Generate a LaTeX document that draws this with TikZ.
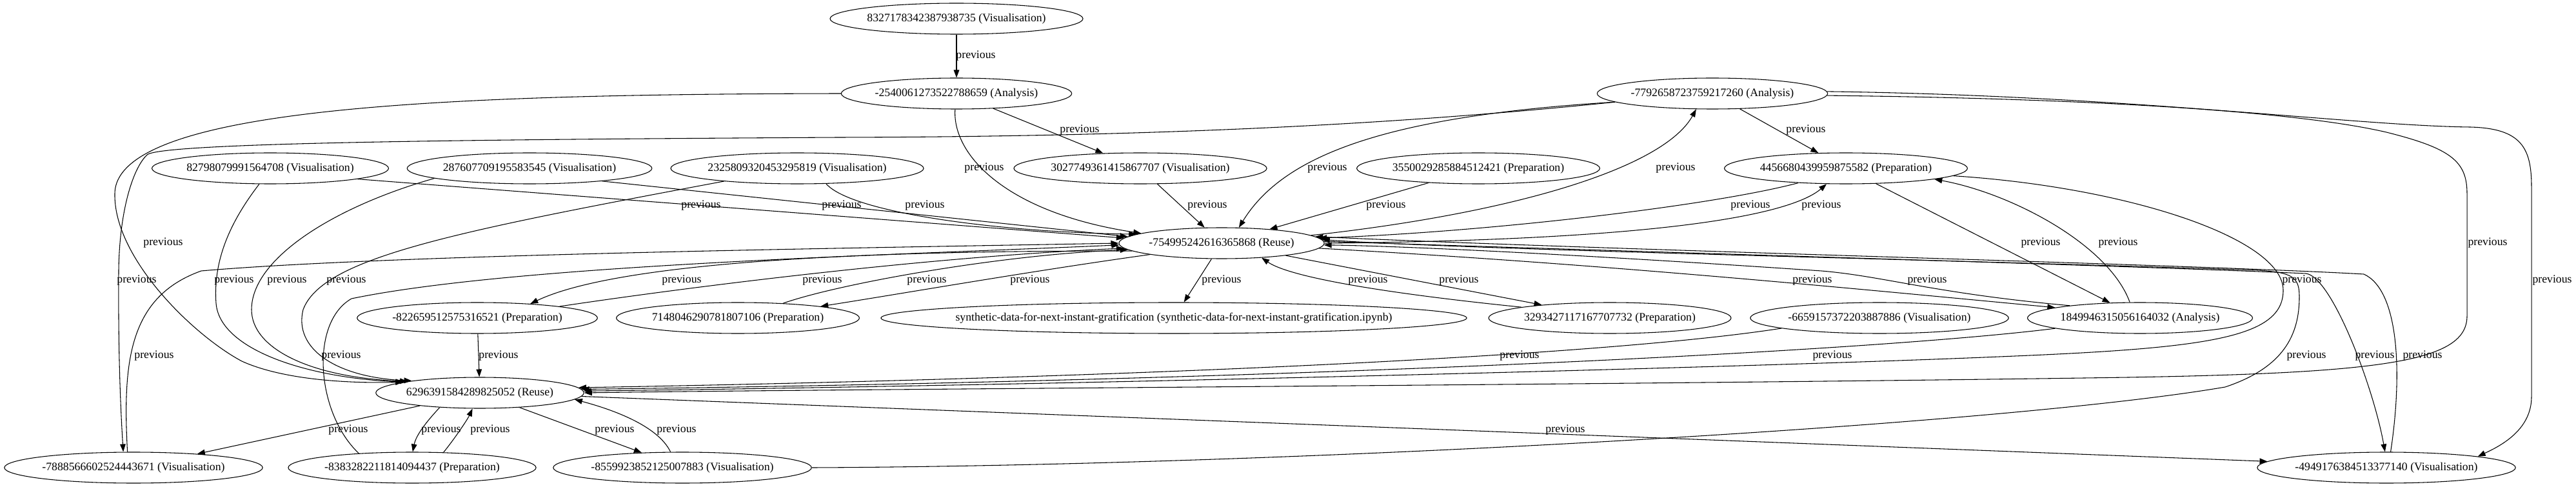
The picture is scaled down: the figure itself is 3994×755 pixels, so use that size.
\documentclass[tikz,border=0pt]{standalone}
\usepackage{fontspec}
\setmainfont{Liberation Serif}
\usetikzlibrary{arrows.meta, shapes.geometric}

\begin{document}
\begin{tikzpicture}[
    x=0.75pt, y=-0.75pt,
    block/.style={ellipse, draw, line width=0.8pt, inner xsep=0pt, inner ysep=2pt, minimum height=36pt, font=\fontsize{13.3}{15}\selectfont},
    line/.style={draw, -{Triangle[length=9pt, width=6.5pt]}, line width=0.8pt},
    lbl/.style={inner sep=0pt, font=\fontsize{13.3}{15}\selectfont}
]
    \useasboundingbox (0,0) rectangle (3994,755);

    \node [block] (v1) at (1483,29) {8327178342387938735 (Visualisation)};
    \node [block] (a1) at (1483,145) {-2540061273522788659 (Analysis)};
    \node [block] (a2) at (2655,145) {-7792658723759217260 (Analysis)};
    \node [block] (v2) at (419,261) {82798079991564708 (Visualisation)};
    \node [block] (v3) at (821,261) {287607709195583545 (Visualisation)};
    \node [block] (v4) at (1236,261) {2325809320453295819 (Visualisation)};
    \node [block] (v5) at (1768,261) {3027749361415867707 (Visualisation)};
    \node [block] (p1) at (2292,261) {3550029285884512421 (Preparation)};
    \node [block] (p2) at (2862,261) {4456680439959875582 (Preparation)};
    \node [block] (r1) at (1894,377) {-754995242616365868 (Reuse)};
    \node [block] (p3) at (740,493) {-822659512575316521 (Preparation)};
    \node [block] (p4) at (1144,493) {7148046290781807106 (Preparation)};
    \node [block, inner xsep=-13pt] (nb) at (1820,493) {synthetic-data-for-next-instant-gratification (synthetic-data-for-next-instant-gratification.ipynb)};
    \node [block] (p5) at (2496,493) {3293427117167707732 (Preparation)};
    \node [block] (v6) at (2914,493) {-6659157372203887886 (Visualisation)};
    \node [block] (a3) at (3318,493) {1849946315056164032 (Analysis)};
    \node [block] (r2) at (744,609) {6296391584289825052 (Reuse)};
    \node [block] (v7) at (207,725) {-7888566602524443671 (Visualisation)};
    \node [block] (p6) at (639,725) {-8383282211814094437 (Preparation)};
    \node [block] (v8) at (1058,725) {-8559923852125007883 (Visualisation)};
    \node [block] (v9) at (3700,725) {-4949176384513377140 (Visualisation)};

    \path [line] (v1) -- (a1) node [lbl] at (1513,87) {previous};
    \path [line] (a1) -- (v5) node [lbl] at (1674,202) {previous};
    \path [line] (a2) -- (p2) node [lbl] at (2800,202) {previous};
    \path [line] (a1.265) .. controls (1476,240) and (1560,330) .. (r1.173) node [lbl] at (1526,261) {previous};
    \path [line] (a2.185) .. controls (2150,180) and (1990,240) .. (r1.42) node [lbl] at (2058,261) {previous};
    \path [line] (r1.5) .. controls (2350,330) and (2580,260) .. (a2.224) node [lbl] at (2598,261) {previous};
    \path [line] (v2.-7) -- (r1.177) node [lbl] at (1087,319) {previous};
    \path [line] (v3.-10) -- (r1.176) node [lbl] at (1305,319) {previous};
    \path [line] (v4.-28) .. controls (1320,330) and (1550,360) .. (r1.174) node [lbl] at (1434,319) {previous};
    \path [line] (v5) -- (r1) node [lbl] at (1872,319) {previous};
    \path [line] (p1) -- (r1) node [lbl] at (2149,319) {previous};
    \path [line] (p2.197) .. controls (2650,320) and (2300,360) .. (r1.3) node [lbl] at (2714,319) {previous};
    \path [line] (r1.0) .. controls (2600,372) and (2780,330) .. (p2.219) node [lbl] at (2824,319) {previous};
    \path [line] (a1.180) .. controls (700,146) and (180,165) .. (178,300) .. controls (176,400) and (300,520) .. (375,560) .. controls (430,585) and (520,595) .. (r2.172) node [lbl] at (253,377) {previous};
    \path [line] (p2) -- (a3) node [lbl] at (3164,377) {previous};
    \path [line] (a3.123) .. controls (3270,380) and (3120,300) .. (p2.-7) node [lbl] at (3284,377) {previous};
    \path [line] (a2.-1) .. controls (3200,152) and (3550,170) .. (3700,205) .. controls (3800,230) and (3825,250) .. (3825,300) -- (3825,490) .. controls (3825,560) and (3700,578) .. (3300,585) .. controls (2500,597) and (1300,603) .. (r2.0) node [lbl] at (3857,377) {previous};
    \path [line] (a2.1) .. controls (3300,148) and (3650,195) .. (3830,197) .. controls (3910,199) and (3925,230) .. (3925,290) -- (3925,615) .. controls (3925,665) and (3880,690) .. (v9.7) node [lbl] at (3957,435) {previous};
    \path [line] (a2.185) .. controls (2100,200) and (1700,212) .. (1300,213) .. controls (800,216) and (250,220) .. (228,240) .. controls (205,262) and (185,330) .. (184,420) .. controls (183,560) and (188,650) .. (v7.123) node [lbl] at (212,435) {previous};
    \path [line] (v2.235) .. controls (360,340) and (330,400) .. (335,470) .. controls (340,540) and (470,585) .. (r2.172) node [lbl] at (363,435) {previous};
    \path [line] (v3.186) .. controls (520,320) and (390,400) .. (390,480) .. controls (390,540) and (480,585) .. (r2.171) node [lbl] at (445,435) {previous};
    \path [line] (v4.190) .. controls (700,360) and (500,400) .. (470,480) .. controls (455,540) and (520,585) .. (r2.170) node [lbl] at (537,435) {previous};
    \path [line] (r1.185) .. controls (1300,388) and (950,410) .. (p3.15) node [lbl] at (1057,435) {previous};
    \path [line] (p3.8) .. controls (1000,455) and (1400,400) .. (r1.183) node [lbl] at (1275,435) {previous};
    \path [line] (p4.18) .. controls (1300,440) and (1550,395) .. (r1.184) node [lbl] at (1437,435) {previous};
    \path [line] (r1.189) .. controls (1600,420) and (1400,455) .. (p4.8) node [lbl] at (1597,435) {previous};
    \path [line] (r1) -- (nb) node [lbl] at (1894,435) {previous};
    \path [line] (p5.173) .. controls (2150,455) and (2000,430) .. (r1.-20) node [lbl] at (2121,435) {previous};
    \path [line] (r1) -- (p5) node [lbl] at (2262,435) {previous};
    \path [line] (r1.-3) .. controls (2500,410) and (2900,450) .. (a3.173) node [lbl] at (2810,435) {previous};
    \path [line] (a3.170) .. controls (3000,455) and (2920,428) .. (2824,420) .. controls (2500,398) and (2200,382) .. (r1.-1) node [lbl] at (2988,435) {previous};
    \path [line] (p2.-4) .. controls (3300,290) and (3540,370) .. (3540,450) .. controls (3540,525) and (3420,540) .. (3100,553) .. controls (2700,570) and (1600,598) .. (r2.1) node [lbl] at (3569,435) {previous};
    \path [line] (v7.111) .. controls (190,560) and (200,460) .. (312,420) .. controls (600,395) and (1300,385) .. (r1.180) node [lbl] at (239,552) {previous};
    \path [line] (p6.165) .. controls (490,640) and (480,500) .. (545,463) .. controls (800,410) and (1400,395) .. (r1.181) node [lbl] at (529,552) {previous};
    \path [line] (p3) -- (r2) node [lbl] at (773,552) {previous};
    \path [line] (v6.186) .. controls (2500,550) and (1800,585) .. (r2.3) node [lbl] at (2356,552) {previous};
    \path [line] (a3.187) .. controls (2900,545) and (2000,590) .. (r2.2) node [lbl] at (2841,552) {previous};
    \path [line] (v8.0) .. controls (2000,722) and (3100,660) .. (3450,600) .. controls (3540,570) and (3565,520) .. (3565,460) .. controls (3565,430) and (3555,422) .. (3500,419) .. controls (3000,402) and (2300,388) .. (r1.2) node [lbl] at (3576,552) {previous};
    \path [line] (r1.1) .. controls (2600,392) and (3300,412) .. (3575,424) .. controls (3615,428) and (3680,600) .. (v9.95) node [lbl] at (3682,552) {previous};
    \path [line] (v9.75) .. controls (3725,580) and (3720,450) .. (3665,425) .. controls (3400,410) and (2500,388) .. (r1.4) node [lbl] at (3756,552) {previous};
    \path [line] (r2) -- (v7) node [lbl] at (540,667) {previous};
    \path [line] (r2.200) .. controls (660,655) and (645,675) .. (p6.88) node [lbl] at (684,667) {previous};
    \path [line] (p6.26) .. controls (705,680) and (725,650) .. (r2.245) node [lbl] at (760,667) {previous};
    \path [line] (r2) -- (v8) node [lbl] at (953,667) {previous};
    \path [line] (v8.127) .. controls (1020,660) and (950,635) .. (r2.-4) node [lbl] at (1049,667) {previous};
    \path [line] (r2.-2) -- (v9.177) node [lbl] at (2427,667) {previous};
\end{tikzpicture}
\end{document}
